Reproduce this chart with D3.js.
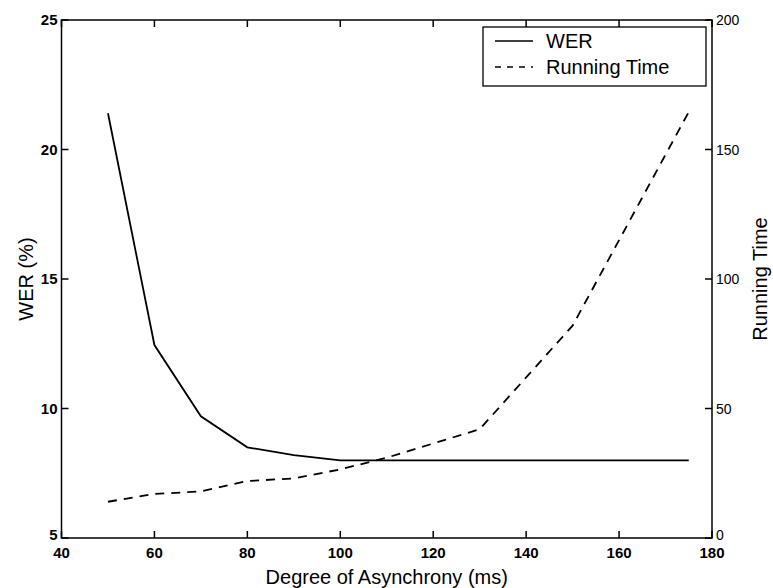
<!DOCTYPE html>
<html>
<head>
<meta charset="utf-8">
<script src="https://cdn.jsdelivr.net/npm/d3@7"></script>
<style>
body { margin: 0; background: #fff; }
text { font-family: "Liberation Sans", Arial, sans-serif; fill: #000; }
.tick-label { font-size: 15px; font-weight: bold; }
.axis-title { font-size: 20px; }
</style>
</head>
<body>
<svg id="chart" width="773" height="588"></svg>
<script>
// data
var delays = [50, 60, 70, 80, 90, 100, 110, 120, 130, 140, 150, 160, 175];
var wer = [21.4, 12.45, 9.7, 8.5, 8.2, 8.0, 8.0, 8.0, 8.0, 8.0, 8.0, 8.0, 8.0];
var runTime = [14, 17, 18, 22, 23, 26.5, 31, 36.5, 42, 62, 82, 115, 164.5];
var xTicks = [40, 60, 80, 100, 120, 140, 160, 180];
var werTicks = [5, 10, 15, 20, 25];
var timeTicks = [0, 50, 100, 150, 200];

var svg = d3.select("#chart");
var plotL = 61.5, plotR = 712, plotT = 20, plotB = 538;
var tickLen = 7;

var x = d3.scaleLinear().domain([40, 180]).range([plotL, plotR]);
var yL = d3.scaleLinear().domain([5, 25]).range([plotB, plotT]);
var yR = d3.scaleLinear().domain([0, 200]).range([plotB, plotT]);

// box
svg.append("rect")
    .attr("x", plotL).attr("y", plotT)
    .attr("width", plotR - plotL).attr("height", plotB - plotT)
    .attr("fill", "none").attr("stroke", "#000").attr("stroke-width", 1.5);

// x ticks (bottom and top, inward)
xTicks.forEach(function(t) {
    svg.append("line").attr("x1", x(t)).attr("x2", x(t))
        .attr("y1", plotB).attr("y2", plotB - tickLen)
        .attr("stroke", "#000").attr("stroke-width", 1.5);
    svg.append("line").attr("x1", x(t)).attr("x2", x(t))
        .attr("y1", plotT).attr("y2", plotT + tickLen)
        .attr("stroke", "#000").attr("stroke-width", 1.5);
    svg.append("text").attr("class", "tick-label")
        .attr("x", x(t)).attr("y", plotB + 20)
        .attr("text-anchor", "middle")
        .text(t);
});

// left ticks
werTicks.forEach(function(t) {
    svg.append("line").attr("x1", plotL).attr("x2", plotL + tickLen)
        .attr("y1", yL(t)).attr("y2", yL(t))
        .attr("stroke", "#000").attr("stroke-width", 1.5);
    svg.append("text").attr("class", "tick-label")
        .attr("x", plotL - 4).attr("y", yL(t) + (t === 5 ? 2 : 5))
        .attr("text-anchor", "end")
        .text(t);
});

// right ticks
timeTicks.forEach(function(t) {
    svg.append("line").attr("x1", plotR).attr("x2", plotR - tickLen)
        .attr("y1", yR(t)).attr("y2", yR(t))
        .attr("stroke", "#000").attr("stroke-width", 1.5);
    svg.append("text").attr("class", "tick-label")
        .attr("x", plotR + 4).attr("y", yR(t) + (t === 0 ? 2 : 5))
        .style("font-weight", "normal")
        .style("font-size", "14px")
        .text(t);
});

// lines
var werLine = d3.line()
    .x(function(d, i) { return x(delays[i]); })
    .y(function(d) { return yL(d); });
var timeLine = d3.line()
    .x(function(d, i) { return x(delays[i]); })
    .y(function(d) { return yR(d); });

svg.append("path").attr("d", werLine(wer))
    .attr("fill", "none").attr("stroke", "#000").attr("stroke-width", 1.8);
svg.append("path").attr("d", timeLine(runTime))
    .attr("fill", "none").attr("stroke", "#000").attr("stroke-width", 1.8)
    .attr("stroke-dasharray", "9,7");

// axis titles
svg.append("text").attr("class", "axis-title")
    .attr("x", (plotL + plotR) / 2).attr("y", 584)
    .attr("text-anchor", "middle")
    .text("Degree of Asynchrony (ms)");
svg.append("text").attr("class", "axis-title")
    .attr("transform", "translate(33," + (plotT + plotB) / 2 + ") rotate(-90)")
    .attr("text-anchor", "middle")
    .text("WER (%)");
svg.append("text").attr("class", "axis-title")
    .attr("transform", "translate(767," + (plotT + plotB) / 2 + ") rotate(-90)")
    .attr("text-anchor", "middle")
    .text("Running Time");

// legend
var lg = svg.append("g");
lg.append("rect").attr("x", 483).attr("y", 27).attr("width", 223).attr("height", 59)
    .attr("fill", "#fff").attr("stroke", "#000").attr("stroke-width", 1.3);
var legendItems = [["WER", null], ["Running Time", "6,6"]];
legendItems.forEach(function(d, i) {
    var yy = 41 + i * 26;
    lg.append("line").attr("x1", 495).attr("x2", 533)
        .attr("y1", yy).attr("y2", yy)
        .attr("stroke", "#000").attr("stroke-width", 1.3)
        .attr("stroke-dasharray", d[1]);
    lg.append("text").attr("class", "axis-title")
        .attr("x", 546).attr("y", yy + 7)
        .text(d[0]);
});
</script>
</body>
</html>
